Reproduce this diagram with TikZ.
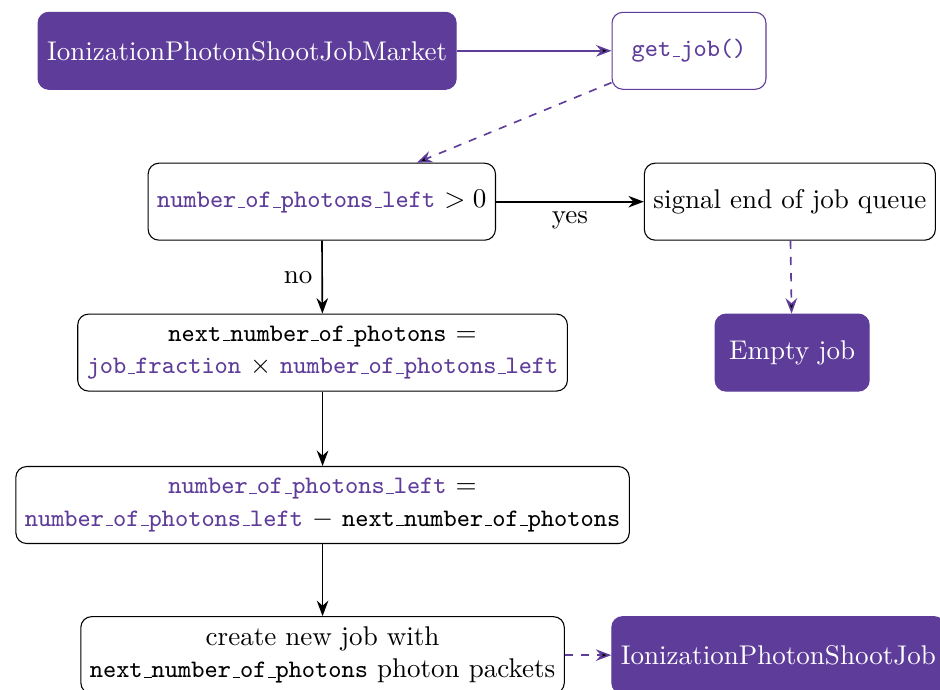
\documentclass[tikz,border=0pt]{standalone}
\usepackage{tikz}
\usetikzlibrary{arrows.meta}
\usepackage{xcolor}

\definecolor{jobpurple}{HTML}{5E3C99}
% short underscore as in the old OT1 fonts
\newcommand{\us}{\leavevmode\kern.06em\vbox{\hrule width.3em}}
\newcommand{\var}[1]{{\fontsize{9.3pt}{12pt}\selectfont\ttfamily #1}}
\newcommand{\code}[1]{\textcolor{jobpurple}{\var{#1}}}

\begin{document}
\begin{tikzpicture}[
    block/.style={draw, rectangle, rounded corners, minimum width=2cm, minimum height=1cm, align=center, fill=white},
    classblock/.style={block, draw=jobpurple, fill=jobpurple, text=white},
    methodblock/.style={block, draw=jobpurple},
    flow/.style={-{Stealth}, semithick},
    callflow/.style={-{Stealth}, semithick, draw=jobpurple, dashed},
  ]
    \useasboundingbox (0,0) rectangle (12.21,-8.96);

    \node[classblock] (A) at (3.21,-0.66) {IonizationPhotonShootJobMarket};
    \node[methodblock] (B) at (8.95,-0.66) {\code{get\us job()}};
    \node[block] (C) at (4.18,-2.62) {\code{number\us of\us photons\us left} $>0$};
    \node[block] (D) at (10.26,-2.62) {signal end of job queue};
    \node[classblock] (E) at (10.29,-4.58) {Empty job};
    \node[block] (F) at (4.19,-4.58) {\var{next\us number\us of\us photons} $=$\\
      \code{job\us fraction} $\times$ \code{number\us of\us photons\us left}};
    \node[block] (G) at (4.19,-6.56) {\code{number\us of\us photons\us left} $=$\\
      \code{number\us of\us photons\us left} $-$ \var{next\us number\us of\us photons}};
    \node[block] (H) at (4.19,-8.51) {create new job with\\
      \var{next\us number\us of\us photons} photon packets};
    \node[classblock, anchor=west] (I) at (7.94,-8.51) {IonizationPhotonShootJob};

    \path [flow, draw=jobpurple] (A) edge (B);
    \path [callflow] (B) edge (C);
    \path [flow] (C) edge node[below] {yes} (D);
    \path [callflow] (D) edge (E);
    \path [flow] (C) edge node[left] {no} (F);
    \path [flow] (F) edge (G);
    \path [flow] (G) edge (H);
    \path [callflow] (H) edge (I);
  \end{tikzpicture}
\end{document}
